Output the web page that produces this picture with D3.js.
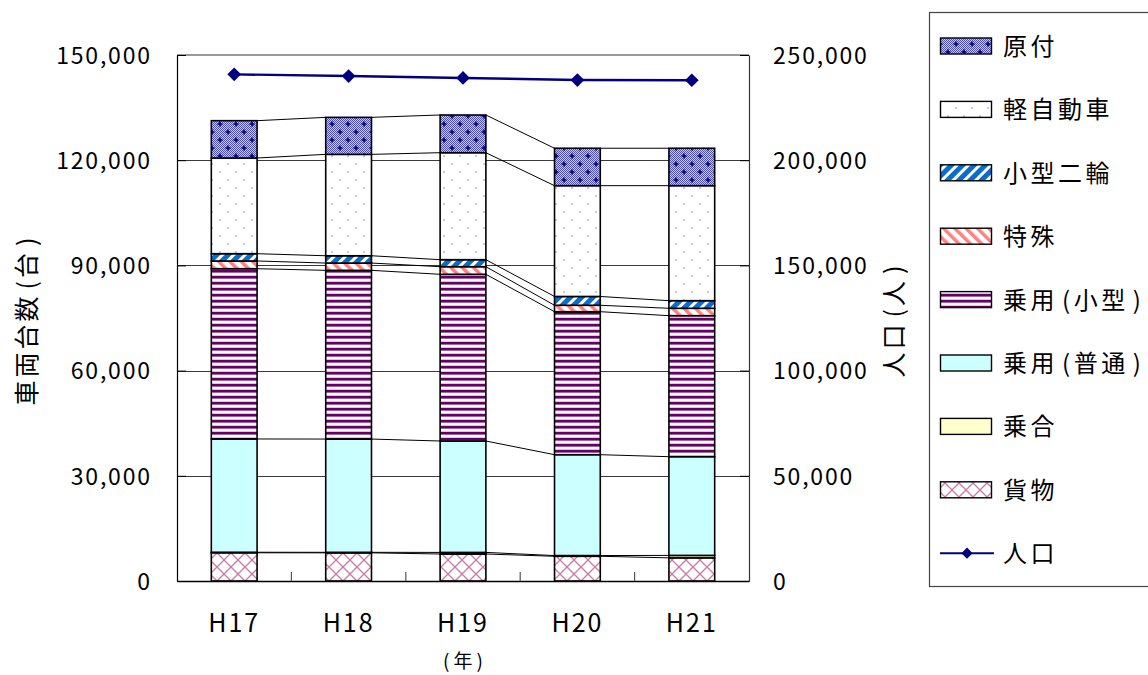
<!DOCTYPE html>
<html lang="ja">
<head>
<meta charset="utf-8">
<script src="https://cdn.jsdelivr.net/npm/d3@7"></script>
<style>
html,body{margin:0;padding:0;background:#fff;}
svg{display:block;}
text{font-family:"Noto Sans CJK JP","Noto Sans",sans-serif;fill:#000;}
</style>
</head>
<body>
<svg id="chart" width="1148" height="675"></svg>
<script>
// 年度
const years = ["H17", "H18", "H19", "H20", "H21"];

// 車種別車両台数(台)
const kamotsu   = [8050, 8030, 7700, 7050, 6600];        // 貨物
const noriai    = [150, 150, 450, 200, 700];              // 乗合
const jouyouFutsu = [32300, 32300, 31770, 28770, 28150];  // 乗用(普通)
const jouyouKogata = [48560, 48110, 47540, 40780, 40210]; // 乗用(小型)
const tokushu   = [2200, 2080, 2170, 1830, 2110];         // 特殊
const kogataNirin = [2080, 2080, 2000, 2510, 2170];       // 小型二輪
const keiJidousha = [27290, 28920, 30510, 31600, 32800];  // 軽自動車
const gentsuki  = [10640, 10550, 10750, 10670, 10670];    // 原付

// 人口(人)
const population = [240800, 240000, 239100, 238100, 238000];

// 目盛
const leftTicks = [0, 30000, 60000, 90000, 120000, 150000];
const rightTicks = [0, 50000, 100000, 150000, 200000, 250000];

// 積み上げ順(下から)
const seriesKeys = ["kamotsu", "noriai", "futsu", "kogata", "tokushu", "nirin", "kei", "gentsuki"];
const seriesNames = ["貨物", "乗合", "乗用(普通)", "乗用(小型)", "特殊", "小型二輪", "軽自動車", "原付"];
const seriesData = [kamotsu, noriai, jouyouFutsu, jouyouKogata, tokushu, kogataNirin, keiJidousha, gentsuki];
const seriesFill = {
  kamotsu: "url(#pat-kamotsu)",
  noriai: "#ffffcc",
  futsu: "#ccffff",
  kogata: "url(#pat-kogata)",
  tokushu: "url(#pat-tokushu)",
  nirin: "url(#pat-nirin)",
  kei: "url(#pat-kei)",
  gentsuki: "url(#pat-gentsuki)"
};

const table = years.map((y, i) => {
  const row = { year: y };
  seriesKeys.forEach((k, j) => { row[k] = seriesData[j][i]; });
  return row;
});

const svg = d3.select("#chart");
const plot = { left: 177, right: 749, top: 55, bottom: 581 };
const FONT = '"Noto Sans CJK JP","Noto Sans",sans-serif';

// ---- 塗りパターン ----
const defs = svg.append("defs");

// 原付: 細かい市松 + 十字
const dither = defs.append("pattern").attr("id", "pat-dither")
  .attr("patternUnits", "userSpaceOnUse").attr("width", 2).attr("height", 2);
dither.append("rect").attr("width", 2).attr("height", 2).attr("fill", "#c8c8ee");
dither.append("rect").attr("width", 1).attr("height", 1).attr("fill", "#5050b0");
dither.append("rect").attr("x", 1).attr("y", 1).attr("width", 1).attr("height", 1).attr("fill", "#5050b0");

const pg = defs.append("pattern").attr("id", "pat-gentsuki")
  .attr("patternUnits", "userSpaceOnUse").attr("width", 16).attr("height", 16);
pg.append("rect").attr("width", 16).attr("height", 16).attr("fill", "url(#pat-dither)");
pg.append("path")
  .attr("d", "M1.5 4h5M4 1.5v5M9.5 12h5M12 9.5v5")
  .attr("stroke", "#000080").attr("stroke-width", 1.6);

// 軽自動車: 白地に淡い点
const pk = defs.append("pattern").attr("id", "pat-kei")
  .attr("patternUnits", "userSpaceOnUse").attr("width", 16).attr("height", 16);
pk.append("rect").attr("width", 16).attr("height", 16).attr("fill", "#ffffff");
pk.append("rect").attr("x", 3).attr("y", 3).attr("width", 2).attr("height", 2).attr("fill", "#c6c6f6");
pk.append("rect").attr("x", 11).attr("y", 11).attr("width", 2).attr("height", 2).attr("fill", "#c6c6f6");

// 小型二輪: 青地に白い斜線
const pn = defs.append("pattern").attr("id", "pat-nirin")
  .attr("patternUnits", "userSpaceOnUse").attr("width", 8).attr("height", 8)
  .attr("patternTransform", "rotate(45)");
pn.append("rect").attr("width", 8).attr("height", 8).attr("fill", "#0a6ccc");
pn.append("rect").attr("width", 3).attr("height", 8).attr("fill", "#ffffff");

// 特殊: 白地にサーモンの斜線
const pt = defs.append("pattern").attr("id", "pat-tokushu")
  .attr("patternUnits", "userSpaceOnUse").attr("width", 8).attr("height", 8)
  .attr("patternTransform", "rotate(-45)");
pt.append("rect").attr("width", 8).attr("height", 8).attr("fill", "#ffffff");
pt.append("rect").attr("width", 3.5).attr("height", 8).attr("fill", "#ff8080");

// 乗用(小型): 紫の横縞
const pko = defs.append("pattern").attr("id", "pat-kogata")
  .attr("patternUnits", "userSpaceOnUse").attr("width", 6).attr("height", 6);
pko.append("rect").attr("width", 6).attr("height", 6).attr("fill", "#ffffff");
pko.append("rect").attr("y", 0).attr("width", 6).attr("height", 2).attr("fill", "#660066");
pko.append("rect").attr("y", 2).attr("width", 6).attr("height", 1).attr("fill", "#a066a0");
pko.append("rect").attr("y", 5).attr("width", 6).attr("height", 1).attr("fill", "#dcc4dc");

// 貨物: 斜め格子
const pka = defs.append("pattern").attr("id", "pat-kamotsu")
  .attr("patternUnits", "userSpaceOnUse").attr("width", 14).attr("height", 14);
pka.append("rect").attr("width", 14).attr("height", 14).attr("fill", "#ffffff");
pka.append("path").attr("d", "M0 0L14 14M14 0L0 14")
  .attr("stroke", "#cc7aa0").attr("stroke-width", 1.3);

// ---- 軸スケール ----
const x = d3.scaleBand().domain(years).range([plot.left, plot.right])
  .paddingInner(0.6).paddingOuter(0.3);
const yL = d3.scaleLinear().domain([0, 150000]).range([plot.bottom, plot.top]);
const yR = d3.scaleLinear().domain([0, 250000]).range([plot.bottom, plot.top]);
const bw = x.bandwidth();

// 目盛線
svg.append("g").selectAll("line")
  .data(leftTicks.filter(t => t > 0 && t < 150000))
  .join("line")
  .attr("x1", plot.left).attr("x2", plot.right)
  .attr("y1", d => Math.round(yL(d)) + 0.5).attr("y2", d => Math.round(yL(d)) + 0.5)
  .attr("stroke", "#3a3a3a").attr("stroke-width", 1);

// プロットエリア上端
svg.append("line")
  .attr("x1", plot.left).attr("x2", plot.right)
  .attr("y1", plot.top).attr("y2", plot.top)
  .attr("stroke", "#9a9a9a").attr("stroke-width", 2);

// ---- 積み上げ棒 ----
const stacked = d3.stack().keys(seriesKeys)(table);

const barG = svg.append("g");
stacked.forEach(layer => {
  barG.append("g")
    .selectAll("rect")
    .data(layer)
    .join("rect")
    .attr("x", d => x(d.data.year))
    .attr("width", bw)
    .attr("y", d => yL(d[1]))
    .attr("height", d => Math.max(0, yL(d[0]) - yL(d[1])))
    .attr("fill", seriesFill[layer.key])
    .attr("stroke", "#000")
    .attr("stroke-width", 1.6);
});

// 区分線(各系列の上端を結ぶ)
const serLines = svg.append("g");
stacked.forEach(layer => {
  const segs = d3.pairs(layer);
  serLines.selectAll(null)
    .data(segs)
    .join("line")
    .attr("x1", d => x(d[0].data.year) + bw)
    .attr("y1", d => yL(d[0][1]))
    .attr("x2", d => x(d[1].data.year))
    .attr("y2", d => yL(d[1][1]))
    .attr("stroke", "#000").attr("stroke-width", 1);
});

// ---- 軸 ----
const fmt = d3.format(",");
const LS = 1.8;

const axL = svg.append("g").attr("transform", `translate(${plot.left},0)`)
  .call(d3.axisLeft(yL).tickValues(leftTicks).tickSize(-9).tickSizeOuter(0)
    .tickPadding(27).tickFormat(fmt));
axL.select(".domain").attr("stroke", "#000").attr("stroke-width", 1.2);
axL.selectAll(".tick line").attr("stroke", "#000");
axL.selectAll(".tick text")
  .attr("font-family", FONT).attr("font-size", 23)
  .attr("letter-spacing", LS).attr("dx", LS).attr("dy", "0.36em").attr("fill", "#000");

const axR = svg.append("g").attr("transform", `translate(${plot.right},0)`)
  .call(d3.axisRight(yR).tickValues(rightTicks).tickSize(-9).tickSizeOuter(0)
    .tickPadding(24).tickFormat(fmt));
axR.select(".domain").attr("stroke", "#333").attr("stroke-width", 1.2);
axR.selectAll(".tick line").attr("stroke", "#000");
axR.selectAll(".tick text")
  .attr("font-family", FONT).attr("font-size", 23)
  .attr("letter-spacing", LS).attr("dy", "0.36em").attr("fill", "#000");

const axB = svg.append("g").attr("transform", `translate(0,${plot.bottom})`)
  .call(d3.axisBottom(x).tickSize(0).tickSizeOuter(0).tickPadding(0));
axB.select(".domain").attr("stroke", "#000").attr("stroke-width", 1.6);
axB.selectAll(".tick text")
  .attr("font-family", FONT).attr("font-size", 25)
  .attr("letter-spacing", 2).attr("dx", 0)
  .attr("y", 51).attr("dy", 0).attr("fill", "#000");

// 区分目盛(項目の境界)
const gap = x.step() - bw;
svg.append("g").selectAll("line")
  .data(years.slice(1))
  .join("line")
  .attr("x1", d => x(d) - gap / 2).attr("x2", d => x(d) - gap / 2)
  .attr("y1", plot.bottom).attr("y2", plot.bottom - 9)
  .attr("stroke", "#555").attr("stroke-width", 1.2);

// 括弧の前後に少し余白を入れて描く
function spacedText(sel, str) {
  Array.from(str).forEach(ch => {
    const t = sel.append("tspan").text(ch);
    if (ch === "(") t.attr("dx", 4);
    if (ch === ")") t.attr("dx", 4);
  });
  return sel;
}

// 軸タイトル
spacedText(svg.append("text")
  .attr("transform", `translate(36,320) rotate(-90)`)
  .attr("text-anchor", "middle").attr("font-size", 25)
  .attr("letter-spacing", 3), "車両台数(台)");

spacedText(svg.append("text")
  .attr("transform", `translate(903,320) rotate(-90)`)
  .attr("text-anchor", "middle").attr("font-size", 25)
  .attr("letter-spacing", 3), "人口(人)");

svg.append("text")
  .attr("x", 465).attr("y", 668)
  .attr("text-anchor", "middle").attr("font-size", 19)
  .attr("letter-spacing", 4)
  .text("(年)");

// ---- 人口 折れ線 ----
const popPts = years.map((y, i) => ({ year: y, v: population[i] }));
svg.append("path")
  .datum(popPts)
  .attr("d", d3.line().x(d => x(d.year) + bw / 2).y(d => yR(d.v)))
  .attr("fill", "none").attr("stroke", "#000080").attr("stroke-width", 2.4);
svg.append("g").selectAll("path")
  .data(popPts)
  .join("path")
  .attr("transform", d => `translate(${x(d.year) + bw / 2},${yR(d.v)})`)
  .attr("d", d3.symbol(d3.symbolDiamond2, 120))
  .attr("fill", "#000080");

// ---- 凡例 ----
const legend = svg.append("g");
legend.append("rect")
  .attr("x", 929.5).attr("y", 12.5).attr("width", 260).attr("height", 574)
  .attr("fill", "#fff").attr("stroke", "#444").attr("stroke-width", 1.2);

const legendItems = seriesKeys.map((k, j) => ({ key: k, name: seriesNames[j] })).reverse();
const legendY = i => 46 + i * 63.4;

legendItems.forEach((it, i) => {
  const cy = legendY(i);
  legend.append("rect")
    .attr("x", 940.5).attr("y", cy - 8).attr("width", 51).attr("height", 16)
    .attr("fill", seriesFill[it.key]).attr("stroke", "#000").attr("stroke-width", 1.4);
  spacedText(legend.append("text")
    .attr("x", 1003).attr("y", cy + 9)
    .attr("font-size", 24).attr("letter-spacing", 3.5), it.name);
});

const popY = legendY(legendItems.length);
legend.append("line")
  .attr("x1", 940).attr("x2", 994).attr("y1", popY).attr("y2", popY)
  .attr("stroke", "#000080").attr("stroke-width", 2);
legend.append("path")
  .attr("transform", `translate(967,${popY})`)
  .attr("d", d3.symbol(d3.symbolDiamond2, 80))
  .attr("fill", "#000080");
legend.append("text")
  .attr("x", 1003).attr("y", popY + 9)
  .attr("font-size", 24).attr("letter-spacing", 3.5)
  .text("人口");
</script>
</body>
</html>
